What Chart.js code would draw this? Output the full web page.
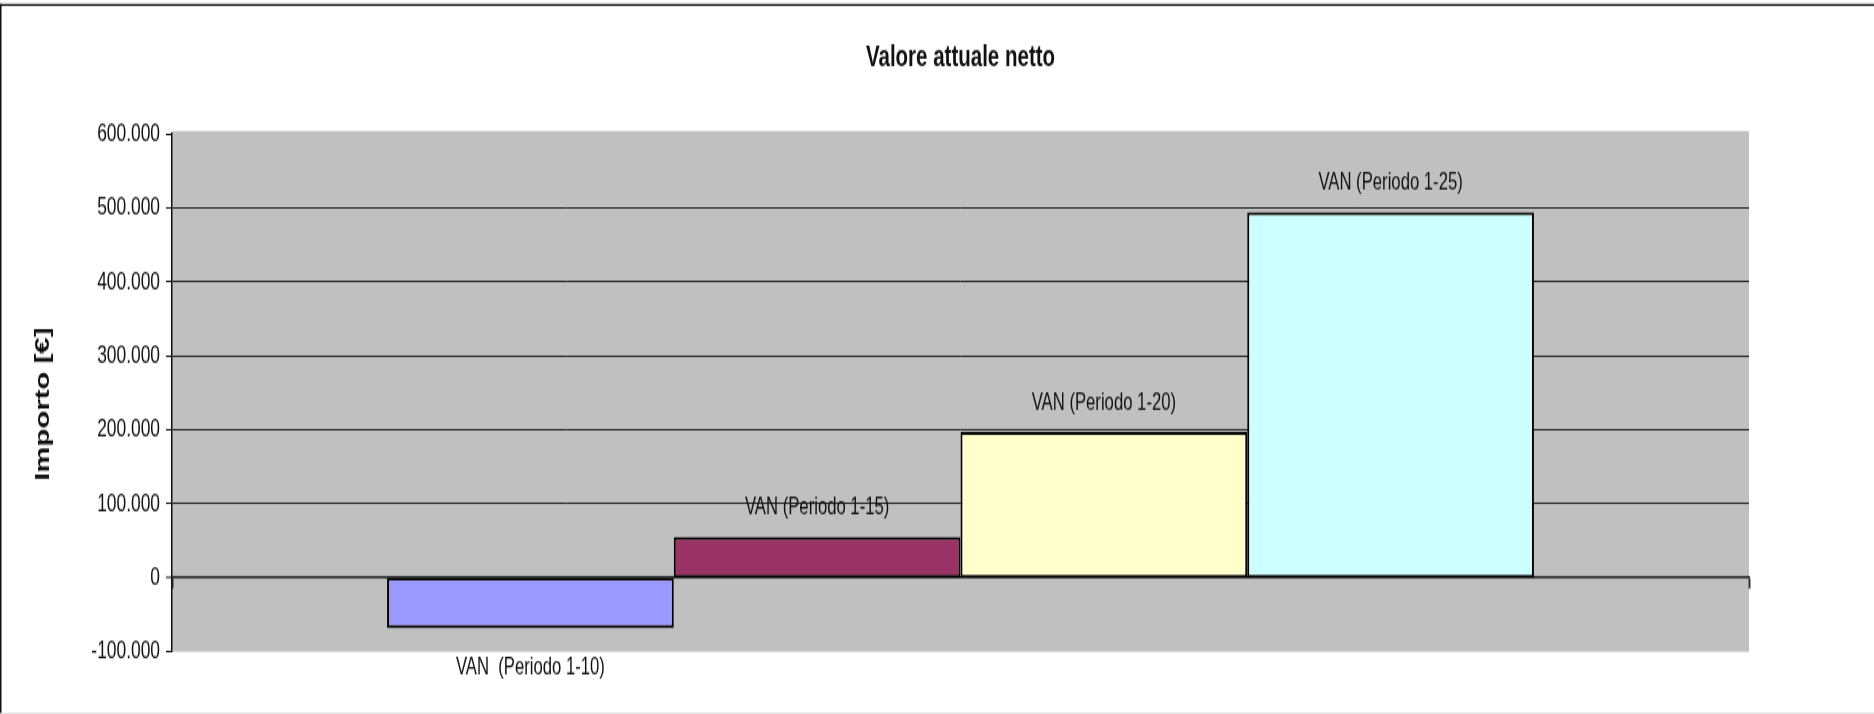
<!DOCTYPE html>
<html lang="it">
<head>
<meta charset="utf-8">
<title>Valore attuale netto</title>
<script src="https://cdn.jsdelivr.net/npm/chart.js@4.4.1/dist/chart.umd.min.js"></script>
<style>
  html, body { margin: 0; padding: 0; background: #fff; overflow: hidden; }
  #vanChart { display: block; }
</style>
</head>
<body>
<!-- the original picture is stretched vertically, so the canvas is drawn at 486px and shown at 714px -->
<canvas id="vanChart" width="1874" height="486" style="width:1874px;height:714px"></canvas>
<script>
// Data
const categories = [''];
const seriesNames = ['VAN  (Periodo 1-10)', 'VAN (Periodo 1-15)', 'VAN (Periodo 1-20)', 'VAN (Periodo 1-25)'];
const seriesValues = [-68000, 55000, 197000, 494000];
const yTicks = [-100000, 0, 100000, 200000, 300000, 400000, 500000, 600000];

const barColors = ['#9999ff', '#993366', '#ffffcc', '#ccffff'];
const family = '"Liberation Sans", Arial, sans-serif';

// 100000 -> 100.000
function fmt(v) {
    return String(v).replace(/\B(?=(\d{3})+(?!\d))/g, '.');
}

const yMin = yTicks[0];
const yMax = yTicks[yTicks.length - 1];

// white page, outer frame and grey plot area
const background = {
    id: 'background',
    beforeDraw(chart) {
        const { ctx, chartArea: a, width, height } = chart;
        ctx.save();
        ctx.fillStyle = '#fff';
        ctx.fillRect(0, 0, width, height);
        ctx.fillStyle = '#111';
        ctx.fillRect(0, 2.7, width, 1.3);
        ctx.fillRect(0, 2.7, 1.5, height);
        ctx.fillStyle = '#ddd';
        ctx.fillRect(0, height - 0.8, width, 0.8);
        ctx.fillStyle = '#c0c0c0';
        ctx.fillRect(a.left, a.top - 1.8, a.right - a.left, a.bottom - a.top + 1.8);
        ctx.restore();
    }
};

// series name over (or under) each bar
const barLabels = {
    id: 'barLabels',
    afterDatasetsDraw(chart) {
        const { ctx } = chart;
        ctx.save();
        ctx.font = '16.7px ' + family;
        ctx.fillStyle = '#111';
        ctx.textAlign = 'center';
        ctx.textBaseline = 'middle';
        chart.data.datasets.forEach((ds, i) => {
            const bar = chart.getDatasetMeta(i).data[0];
            const y = ds.data[0] < 0 ? bar.y + 26.5 : bar.y - 20;
            ctx.fillText(ds.label, bar.x, y);
        });
        ctx.restore();
    }
};

const datasets = seriesNames.map((name, i) => ({
    label: name,
    data: [seriesValues[i]],
    backgroundColor: barColors[i],
    borderColor: '#000',
    borderWidth: 2,
    borderSkipped: false,
    categoryPercentage: 4 / 5.5,
    barPercentage: 1
}));

new Chart(document.getElementById('vanChart'), {
    type: 'bar',
    data: { labels: categories, datasets: datasets },
    options: {
        responsive: false,
        animation: false,
        layout: { padding: { left: 0, right: 125, top: 0, bottom: 42.4 } },
        plugins: {
            legend: { display: false },
            tooltip: { enabled: false },
            title: {
                display: true,
                fullSize: false,
                text: 'Valore attuale netto',
                color: '#111',
                font: { family: family, weight: 'bold', size: 20.5, lineHeight: 1.2 },
                padding: { top: 27.5, bottom: 39 }
            }
        },
        scales: {
            x: {
                position: { y: 0 },
                offset: true,
                ticks: { display: false },
                grid: {
                    drawOnChartArea: false,
                    offset: true,
                    tickLength: 6.8,
                    tickColor: '#333',
                    tickWidth: 2
                },
                border: { display: true, color: '#333', width: 1.8 }
            },
            y: {
                min: yMin,
                max: yMax,
                ticks: {
                    stepSize: yTicks[1] - yTicks[0],
                    padding: 6,
                    color: '#111',
                    font: { family: family, size: 17.4 },
                    callback: (v) => fmt(v)
                },
                grid: {
                    color: (c) => (c.tick && (c.tick.value === 0 || c.tick.value === yMin || c.tick.value === yMax))
                        ? 'rgba(0,0,0,0)' : '#222',
                    lineWidth: (c) => (c.tick && c.tick.value === 0) ? 0 : 1,
                    tickColor: '#111',
                    tickLength: 6,
                    tickWidth: 1
                },
                border: { display: true, color: '#111', width: 1.5 },
                title: {
                    display: true,
                    // trailing spaces push the rotated text a little lower, as in the original
                    text: 'Importo [€] \u2002',
                    color: '#111',
                    font: { family: family, weight: 'bold', size: 20, lineHeight: 1.2 },
                    padding: { top: 31.3, bottom: 0 }
                },
                afterFit(scale) {
                    scale.width = 172;
                }
            }
        }
    },
    plugins: [background, barLabels]
});
</script>
</body>
</html>
